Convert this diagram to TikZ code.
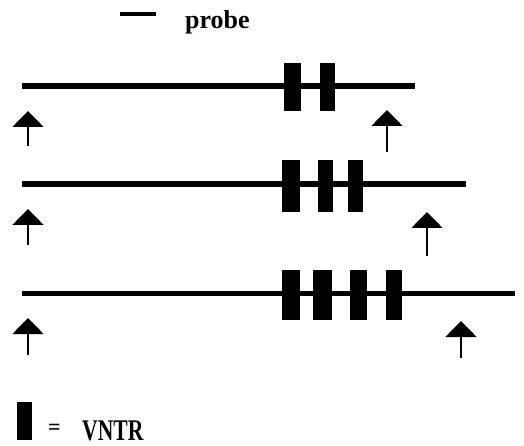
\documentclass[tikz,border=0pt]{standalone}
\usepackage{fontspec}
\setmainfont{Liberation Serif}
\usetikzlibrary{arrows.meta}
\begin{document}
\begin{tikzpicture}[x=1pt,y=-1pt,
  dna/.style={line width=5.5pt},
  vntr/.style={fill=black,draw=none},
  site/.style={line width=1.8pt,-{Triangle[width=31pt,length=16pt]}},
  lbl/.style={inner sep=0pt,font=\bfseries\fontsize{26}{28}\selectfont}]
\useasboundingbox (0,0) rectangle (524,446);
% probe legend
\coordinate (p1) at (120,14.5);
\coordinate (p2) at (156,14.5);
\draw[line width=4pt] (p1) -- (p2);
\node[lbl,anchor=base west] (probe) at (185,29) {probe};
% line 1
\coordinate (a1) at (22,86); \coordinate (b1) at (415,86);
\draw[dna] (a1) -- (b1);
\fill[vntr] (284,63) rectangle (301,111);
\fill[vntr] (320,63) rectangle (335,111);
\coordinate (l1s) at (28,146); \coordinate (l1t) at (28,111);
\coordinate (r1s) at (387,152); \coordinate (r1t) at (387,110);
\draw[site] (l1s) -- (l1t);
\draw[site] (r1s) -- (r1t);
% line 2
\coordinate (a2) at (22,184); \coordinate (b2) at (466,184);
\draw[dna] (a2) -- (b2);
\fill[vntr] (282,160) rectangle (300,212);
\fill[vntr] (318,160) rectangle (333,212);
\fill[vntr] (348,160) rectangle (363,212);
\coordinate (l2s) at (28,245); \coordinate (l2t) at (28,209);
\coordinate (r2s) at (427,256); \coordinate (r2t) at (427,212);
\draw[site] (l2s) -- (l2t);
\draw[site] (r2s) -- (r2t);
% line 3
\coordinate (a3) at (22,293.5); \coordinate (b3) at (515,293.5);
\draw[dna] (a3) -- (b3);
\fill[vntr] (282,270) rectangle (300,320);
\fill[vntr] (313,270) rectangle (332,320);
\fill[vntr] (350,270) rectangle (367,320);
\fill[vntr] (386,270) rectangle (402,320);
\coordinate (l3s) at (28,355); \coordinate (l3t) at (28,318);
\coordinate (r3s) at (461,358); \coordinate (r3t) at (461,321);
\draw[site] (l3s) -- (l3t);
\draw[site] (r3s) -- (r3t);
% VNTR legend
\fill[vntr] (17,402) rectangle (32,440);
\node[lbl,anchor=base west,font=\bfseries\fontsize{22}{24}\selectfont] (eq) at (48,434) {=};
\node[lbl,anchor=base west] (vntrlbl) at (82,440) {\scalebox{0.72}[1]{\fontsize{30}{32}\selectfont VNTR}};
\end{tikzpicture}
\end{document}
